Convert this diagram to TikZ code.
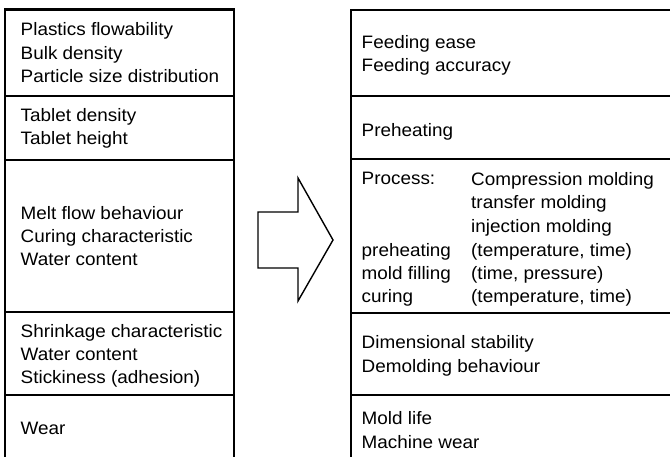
\documentclass[tikz,border=0pt]{standalone}
\usepackage{fontspec}
\setmainfont{Liberation Sans}[FakeStretch=1.05]

\begin{document}
\begin{tikzpicture}[x=1pt, y=-1pt,
    frame/.style={line width=2.2pt},
    rule/.style={line width=1.4pt},
    cell/.style={anchor=base west, inner sep=0pt, align=left,
                 font=\fontsize{18}{23.5}\selectfont}]
    \useasboundingbox (0,0) rectangle (670,457);

    % Left box: material properties (nodes sit on their last baseline)
    \draw[frame] (5,457) -- (5,9.5) -- (234,9.5) -- (234,457);
    \foreach \y in {96,160,312,395}
        \draw[rule] (5,\y) -- (234,\y);

    \node[cell] (flow)   at (20.5,83)  {Plastics flowability\\Bulk density\\Particle size distribution};
    \node[cell] (tablet) at (20.5,145) {Tablet density\\Tablet height};
    \node[cell] (melt)   at (20.5,266) {Melt flow behaviour\\Curing characteristic\\Water content};
    \node[cell] (shrink) at (20.5,384) {Shrinkage characteristic\\Water content\\Stickiness (adhesion)};
    \node[cell] (wear)   at (20.5,434) {Wear};

    % Block arrow
    \draw[line width=1.4pt, line join=miter]
        (258,212) -- (298,212) -- (298,178) -- (333,240)
        -- (298,301) -- (298,268) -- (258,268) -- cycle;

    % Right box: processing behaviour
    \draw[frame] (351,457) -- (351,10) -- (670,10);
    \foreach \y in {96,159,313,395}
        \draw[rule] (351,\y) -- (670,\y);

    \node[cell] (feed)     at (361.5,72)  {Feeding ease\\Feeding accuracy};
    \node[cell] (preheat)  at (361.5,137) {Preheating};
    \node[cell] (process)  at (361.5,185) {Process:};
    \node[cell] (stage)    at (361.5,303) {preheating\\mold filling\\curing};
    \node[cell] (method)   at (471,303)   {Compression molding\\transfer molding\\injection molding\\(temperature, time)\\(time, pressure)\\(temperature, time)};
    \node[cell] (dim)      at (361.5,372) {Dimensional stability\\Demolding behaviour};
    \node[cell] (moldlife) at (361.5,448) {Mold life\\Machine wear};
\end{tikzpicture}
\end{document}
